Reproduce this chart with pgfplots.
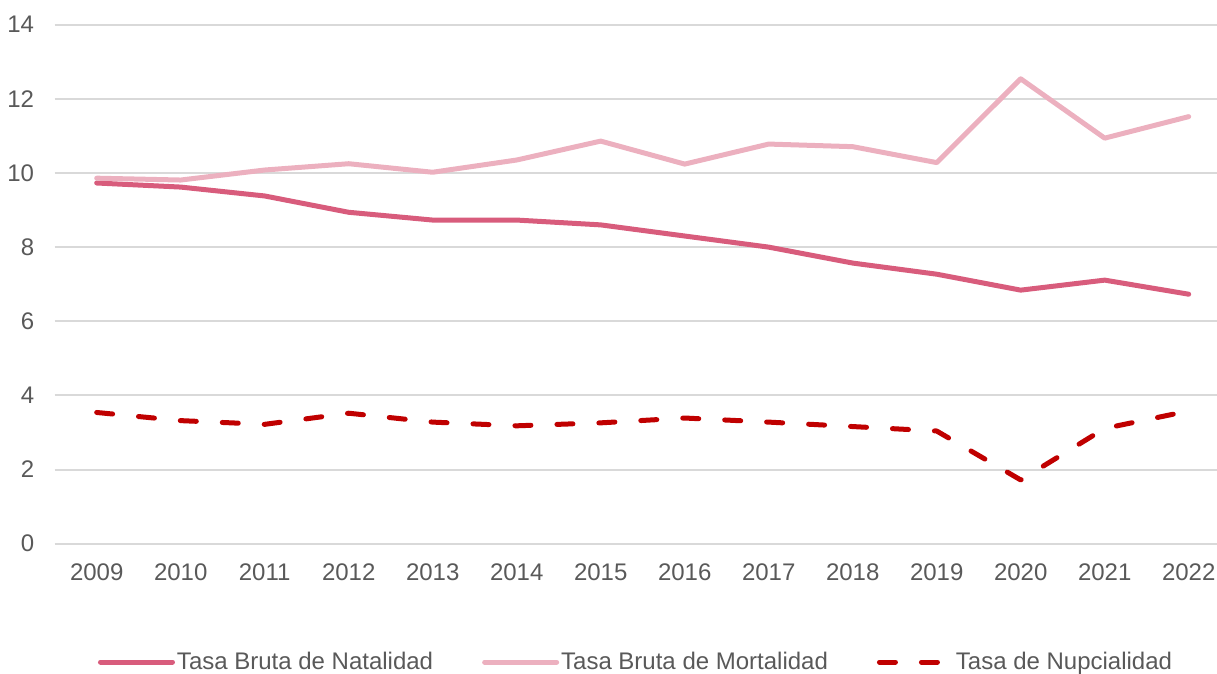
\documentclass[border=0pt]{standalone}
\usepackage{fontspec}
\setmainfont{Liberation Sans}
\usepackage{pgfplots}
\pgfplotsset{compat=1.18}
\definecolor{natal}{HTML}{D85C7C}
\definecolor{mort}{HTML}{ECB0BF}
\definecolor{nupc}{HTML}{C00000}
\definecolor{gridc}{HTML}{D9D9D9}
\definecolor{txt}{HTML}{595959}
\begin{document}
\begin{tikzpicture}
\begin{axis}[
  at={(54.7pt,129.3pt)}, anchor=south west,
  scale only axis, width=1162.3pt, height=519pt,
  xmin=-0.5, xmax=13.337, ymin=0, ymax=14,
  xtick={0,...,13},
  xticklabels={2009,2010,2011,2012,2013,2014,2015,2016,2017,2018,2019,2020,2021,2022},
  ytick={0,2,...,14},
  axis line style={draw=none},
  major tick length=0pt,
  ymajorgrids, grid style={gridc, line width=2pt},
  /pgf/number format/assume math mode=true,
  tick label style={font=\fontsize{24}{28}\selectfont, text=txt},
  xticklabel style={anchor=north, inner sep=0pt, yshift=-20.3pt},
  yticklabel style={anchor=east, inner sep=0pt, xshift=-20.4pt},
  legend columns=3,
  legend style={at={(0.4993,-0.228)}, anchor=center, draw=none, fill=none,
    font=\fontsize{24}{28}\selectfont, text=txt, inner sep=0pt,
    nodes={inner sep=0pt},
    /tikz/every odd column/.append style={column sep=2pt},
    /tikz/every even column/.append style={column sep=49pt}},
  legend cell align=left,
  legend image code/.code={\draw[#1] (0pt,0pt) -- (72pt,0pt);},
]
\addplot[natal, line width=5pt, line cap=round, line join=round] coordinates {
(0,9.73) (1,9.62) (2,9.38) (3,8.94) (4,8.73) (5,8.73) (6,8.60) (7,8.30) (8,8.00) (9,7.57) (10,7.27) (11,6.84) (12,7.11) (13,6.73)};
\addlegendentry{Tasa Bruta de Natalidad}
\addplot[mort, line width=5pt, line cap=round, line join=round] coordinates {
(0,9.86) (1,9.81) (2,10.08) (3,10.25) (4,10.02) (5,10.35) (6,10.86) (7,10.24) (8,10.78) (9,10.71) (10,10.28) (11,12.54) (12,10.94) (13,11.52)};
\addlegendentry{Tasa Bruta de Mortalidad}
\addplot[nupc, line width=5pt, line cap=round, line join=round, dash pattern=on 16pt off 26pt] coordinates {
(0,3.54) (1,3.32) (2,3.22) (3,3.52) (4,3.28) (5,3.18) (6,3.26) (7,3.39) (8,3.28) (9,3.16) (10,3.04) (11,1.72) (12,3.11) (13,3.58)};
\addlegendentry{Tasa de Nupcialidad}
\end{axis}
\pgfresetboundingbox
\path[use as bounding box] (0,0) rectangle (1217pt,673pt);
\end{tikzpicture}
\end{document}
